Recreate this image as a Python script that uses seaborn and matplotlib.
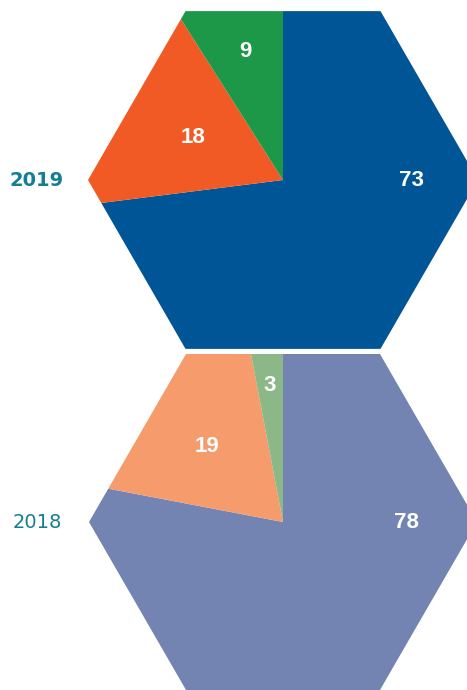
import matplotlib
matplotlib.use("Agg")
import matplotlib.pyplot as plt
import numpy as np
import seaborn as sns
from matplotlib.patches import Polygon

sns.set_theme(style="white")
plt.rcParams["font.family"] = ["Liberation Sans", "DejaVu Sans"]

# ==========================================
# DATA
# ==========================================
years = ["2019", "2018"]
shares_2019 = [73, 18, 9]
shares_2018 = [78, 19, 3]
colors_2019 = ["#005596", "#F15A24", "#1D9748"]
colors_2018 = ["#7384B3", "#F69B6C", "#8BB886"]

W, H = 467, 690
YEAR_COLOR = "#137F93"


def hexagon(cx, cy, r):
    ang = np.deg2rad(np.arange(0, 360, 60))
    return np.column_stack([cx + r * np.cos(ang), cy + r * np.sin(ang)])


def hex_pie(ax, values, colors, cx, cy, r, label_dist):
    wedges, _ = ax.pie(values, colors=colors, startangle=90, counterclock=False,
                       radius=r * 1.5, center=(cx, cy),
                       wedgeprops=dict(linewidth=0))
    clip = Polygon(hexagon(cx, cy, r), closed=True, transform=ax.transData,
                   facecolor="none", edgecolor="none")
    ax.add_patch(clip)
    for w in wedges:
        w.set_clip_on(True)
        w.set_clip_path(clip)

    # labels: biggest slice sits on the right, others at their mid angle
    total = sum(values)
    start = 0.0
    for i, (v, w) in enumerate(zip(values, wedges)):
        mid = start + v / 2
        start += v
        if i == 0:
            ang = 0.0
        else:
            ang = np.deg2rad(90 - 360 * mid / total)
        ax.text(cx + label_dist[i] * np.cos(ang), cy + label_dist[i] * np.sin(ang),
                str(v), color="white", fontsize=16, fontweight="bold",
                ha="center", va="center")


fig = plt.figure(figsize=(W / 100, H / 100), dpi=100)
ax = fig.add_axes([0, 0, 1, 1])

hex_pie(ax, shares_2019, colors_2019, 283, H - 180, 195, [128, 99, 134])
hex_pie(ax, shares_2018, colors_2018, 283, H - 522, 194, [123, 107, 137])

ax.text(37, H - 181, years[0], color=YEAR_COLOR, fontsize=14,
        fontweight="bold", ha="center", va="center", family=["DejaVu Sans"])
ax.text(37, H - 522, years[1], color=YEAR_COLOR, fontsize=14,
        ha="center", va="center", family=["DejaVu Sans"])

ax.set_xlim(0, W)
ax.set_ylim(0, H)
ax.set_aspect("equal")
ax.axis("off")

fig.savefig("out.png", dpi=100, facecolor="white")
